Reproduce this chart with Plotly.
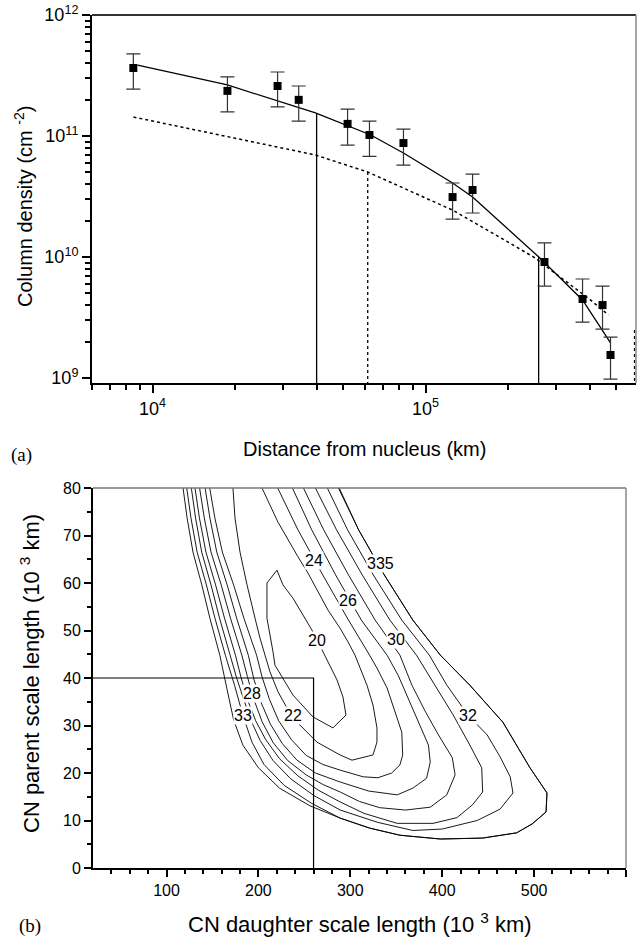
import plotly.graph_objects as go

# ---------------- panel (a): column density vs distance ----------------
dist_km = [8500, 18800, 28700, 34300, 51800, 62300, 83000, 125600, 148700, 272700, 376000, 445000, 476000]
col_dens = [3.65e11, 2.36e11, 2.59e11, 1.99e11, 1.26e11, 1.02e11, 8.75e10, 3.13e10, 3.58e10, 9.1e9, 4.5e9, 4.01e9, 1.55e9]
err_plus = [1.12e11, 0.72e11, 0.79e11, 0.60e11, 0.41e11, 0.31e11, 2.65e10, 0.96e10, 1.27e10, 4.0e9, 2.08e9, 1.74e9, 0.63e9]
err_minus = [1.21e11, 0.78e11, 0.85e11, 0.66e11, 0.42e11, 0.34e11, 3.0e10, 1.07e10, 1.27e10, 3.35e9, 1.6e9, 1.47e9, 0.57e9]

fit_x = [8810, 18800, 39500, 63000, 83000, 125600, 148700, 243000, 260000, 376000, 476000]
fit_y = [3.86e11, 2.64e11, 1.55e11, 1.02e11, 7.24e10, 4.09e10, 3.13e10, 1.14e10, 1.0e10, 4.42e9, 1.95e9]

alt_x = [8510, 39500, 61400, 125600, 249000, 294400, 401800, 467700]
alt_y = [1.435e11, 6.97e10, 5.04e10, 2.44e10, 1.0e10, 7.52e9, 4.42e9, 3.32e9]

solid_drop_x = [39900, 259600]
solid_drop_top = [1.55e11, 1.0e10]
dotted_drop_x = [61400, 583000]
dotted_drop_top = [5.04e10, 2.5e9]
drop_floor = 8e8

xa_major = [1e4, 1e5]
xa_labels = ["10<sup>4</sup>", "10<sup>5</sup>"]
xa_minor = [6000, 7000, 8000, 9000, 20000, 30000, 40000, 50000, 60000, 70000, 80000, 90000,
            200000, 300000, 400000, 500000]
ya_major = [1e9, 1e10, 1e11, 1e12]
ya_labels = ["10<sup>9</sup>", "10<sup>10</sup>", "10<sup>11</sup>", "10<sup>12</sup>"]
ya_minor = [m * 10 ** e for e in (8, 9, 10, 11) for m in range(2, 10)]

# ---------------- panel (b): chi-square contours ----------------
c20_x = [220.2, 226.7, 237.6, 245.2, 252.9, 259.4, 270.3, 277.9, 285.5, 292.0, 295.3, 281.1, 259.4, 237.6, 218.0, 215.9, 209.3, 209.3, 209.3, 220.2]
c20_y = [62.7, 59.6, 56.8, 54.3, 51.8, 49.7, 45.5, 42.7, 39.6, 36.0, 32.2, 29.5, 31.8, 36.4, 42.7, 45.5, 52.6, 57.5, 60.0, 62.7]

c22_x = [172.3, 174.5, 180.0, 187.6, 196.3, 201.7, 207.2, 212.6, 221.3, 231.1, 245.2, 263.7, 288.8, 301.8, 324.7, 329.0, 329.0, 324.7, 318.1, 310.5, 305.1, 297.5, 288.8, 275.7, 264.8, 253.9, 243.1, 232.2, 221.3, 212.6, 203.9]
c22_y = [80, 73.7, 66.5, 59.6, 52.6, 48.4, 44.8, 41.3, 37.1, 33.7, 30.1, 26.5, 23.8, 22.7, 23.8, 26.5, 29.5, 34.3, 38.5, 42.1, 44.8, 47.6, 50.5, 54.3, 58.1, 62.1, 65.5, 69.0, 72.8, 76.4, 80]

c24_x = [147, 152.6, 160.8, 173, 184.2, 198, 204, 212, 222, 236, 252, 270, 289, 314, 330, 345, 354, 357, 356, 349, 340, 329, 321, 298, 270, 243, 221]
c24_y = [80, 73.7, 66.5, 59.6, 52.6, 44.8, 40.2, 35.5, 31.0, 27.0, 23.7, 21.8, 20.6, 19.2, 19.0, 20.0, 21.7, 23.8, 28.6, 32.6, 37.9, 42.1, 44.8, 52.2, 61.7, 71.2, 80]

c26_x = [142, 147.2, 154.7, 166, 176.3, 189, 195, 203, 213, 226, 242, 262, 289, 320, 351, 368, 383, 387, 385, 374, 363, 352, 340, 312, 284, 258, 237]
c26_y = [80, 73.7, 66.5, 59.6, 52.6, 44.8, 39.8, 34.8, 30.3, 26.2, 22.7, 20.0, 18.1, 16.2, 15.4, 16.8, 18.9, 22.3, 25.9, 30.7, 35.8, 40.6, 44.8, 52.2, 61.7, 71.2, 80]

c28_x = [136, 141.1, 148.4, 159.5, 169.6, 182, 188, 195, 204, 216, 232, 252, 270, 289, 310, 332, 360, 387, 405, 414, 411, 396, 382, 367, 354, 327, 298, 271, 249]
c28_y = [80, 73.7, 66.5, 59.6, 52.6, 44.8, 40.3, 35.5, 30.8, 26.4, 22.6, 19.6, 17.6, 16.0, 14.0, 12.7, 12.2, 12.8, 15.4, 19.6, 23.2, 28.0, 32.8, 38.5, 44.8, 52.2, 61.7, 71.2, 80]

c30_x = [131, 135.8, 142.9, 153.4, 163.1, 175, 181, 188, 197, 208, 223, 243, 265, 289, 315, 351, 390, 416, 433, 444, 443, 430, 412, 390, 372, 343, 313, 285, 262]
c30_y = [80, 73.7, 66.5, 59.6, 52.6, 44.8, 40.2, 35.5, 31.0, 27.0, 23.0, 19.4, 16.4, 13.9, 11.5, 9.4, 9.4, 10.6, 13.3, 16.0, 21.1, 25.9, 32.2, 39.2, 44.8, 52.2, 61.7, 71.2, 80]

c32_x = [127, 131.6, 138.3, 148.4, 157.7, 169, 176, 184, 192, 202, 216, 235, 260, 289, 330, 368, 400, 438, 463, 477, 474, 463, 449, 428, 405, 386, 356, 325, 297, 275]
c32_y = [80, 73.7, 66.5, 59.6, 52.6, 44.8, 40.2, 35.5, 31.0, 26.8, 22.6, 18.8, 15.3, 12.2, 9.6, 7.9, 8.2, 10.0, 12.4, 15.8, 19.2, 23.4, 28.0, 32.2, 38.5, 44.8, 52.2, 61.7, 71.2, 80]

c33_x = [122, 126.6, 133.3, 143.4, 152.7, 164, 174, 183, 193, 206, 228, 258, 289, 321, 354, 398, 444, 481, 498, 513, 514, 495.5, 466, 430, 398, 368, 337, 309, 287]
c33_y = [80, 73.7, 66.5, 59.6, 52.6, 44.8, 38.5, 32.2, 26.5, 21.8, 17.4, 13.6, 10.5, 8.4, 6.9, 6.1, 6.3, 7.4, 9.3, 11.8, 15.8, 21.1, 30.7, 38.5, 44.8, 52.2, 61.7, 71.2, 80]

c35_x = [118, 122.4, 128.8, 138.4, 147.2, 158, 166, 173, 183, 200, 223, 256, 289, 321, 354, 398, 444, 481, 498, 513, 514, 495.5, 466, 430, 398, 368, 337, 309, 288]
c35_y = [80, 73.7, 66.5, 59.6, 52.6, 44.8, 37.5, 31.2, 25.9, 21.1, 16.8, 13.1, 10.5, 8.4, 6.9, 6.1, 6.3, 7.4, 9.3, 11.8, 15.8, 21.1, 30.7, 38.5, 44.8, 52.2, 61.7, 71.2, 80]

contour_lines = [(c20_x, c20_y), (c22_x, c22_y), (c24_x, c24_y), (c26_x, c26_y), (c28_x, c28_y),
                 (c30_x, c30_y), (c32_x, c32_y), (c33_x, c33_y), (c35_x, c35_y)]

# contour labels as printed (the 33 and 35 labels overprint as "335")
label_text = ["20", "22", "24", "26", "28", "30", "32", "33", "335"]
label_x = [264, 237.6, 260.5, 298, 193, 350, 428, 183, 333]
label_y = [48.0, 32.2, 64.8, 56.4, 36.8, 48.2, 32.2, 32.2, 64.2]

best_daughter = 260
best_parent = 40

xb_major = [100, 200, 300, 400, 500, 600]
xb_minor = [v for v in range(40, 600, 20) if v % 100 != 0]
yb_major = [0, 10, 20, 30, 40, 50, 60, 70, 80]
yb_minor = [5, 15, 25, 35, 45, 55, 65, 75]

FONT = "Liberation Sans, Arial, sans-serif"
SERIF = "Liberation Serif, Times New Roman, serif"

fig = go.Figure()

# fit curves
fig.add_trace(go.Scatter(x=fit_x, y=fit_y, mode="lines", line=dict(color="black", width=1.3),
                         xaxis="x", yaxis="y", showlegend=False))
fig.add_trace(go.Scatter(x=alt_x, y=alt_y, mode="lines", line=dict(color="black", width=1.5, dash="dot"),
                         xaxis="x", yaxis="y", showlegend=False))
# drop lines
sx, sy = [], []
for xv, top in zip(solid_drop_x, solid_drop_top):
    sx += [xv, xv, None]
    sy += [top, drop_floor, None]
fig.add_trace(go.Scatter(x=sx, y=sy, mode="lines", line=dict(color="black", width=1.3),
                         xaxis="x", yaxis="y", showlegend=False))
dx, dy = [], []
for xv, top in zip(dotted_drop_x, dotted_drop_top):
    dx += [xv, xv, None]
    dy += [top, drop_floor, None]
fig.add_trace(go.Scatter(x=dx, y=dy, mode="lines", line=dict(color="black", width=1.3, dash="dot"),
                         xaxis="x", yaxis="y", showlegend=False))
# data points
fig.add_trace(go.Scatter(x=dist_km, y=col_dens, mode="markers",
                         marker=dict(symbol="square", size=8, color="black"),
                         error_y=dict(type="data", symmetric=False, array=err_plus, arrayminus=err_minus,
                                      color="#333333", thickness=1.2, width=7),
                         xaxis="x", yaxis="y", showlegend=False))

# contours
for cx, cy in contour_lines:
    fig.add_trace(go.Scatter(x=cx, y=cy, mode="lines", line=dict(color="black", width=0.9),
                             xaxis="x2", yaxis="y2", showlegend=False))
# best-fit box
fig.add_trace(go.Scatter(x=[xb_minor[0] - 20, best_daughter, best_daughter],
                         y=[best_parent, best_parent, yb_major[0]], mode="lines",
                         line=dict(color="black", width=1.2), xaxis="x2", yaxis="y2", showlegend=False))

tickfont_a = dict(family=FONT, size=18, color="black")
tickfont_b = dict(family=FONT, size=16, color="black")

fig.update_layout(
    width=637, height=940,
    margin=dict(l=0, r=0, t=0, b=0),
    paper_bgcolor="white", plot_bgcolor="white",
    font=dict(family=FONT, color="black"),
    xaxis=dict(type="log", domain=[92 / 637, 636 / 637], range=[3.778, 5.771], anchor="y",
               showline=True, linecolor="black", linewidth=2, mirror=False,
               ticks="outside", ticklen=8, tickwidth=1.5, tickcolor="black",
               tickmode="array", tickvals=xa_major, ticktext=xa_labels, tickfont=tickfont_a,
               showgrid=False, zeroline=False, automargin=False,
               minor=dict(tickmode="array", tickvals=xa_minor, ticks="outside", ticklen=5,
                          tickwidth=1.5, tickcolor="black", showgrid=False)),
    yaxis=dict(type="log", domain=[1 - 383 / 940, 1 - 15 / 940], range=[8.959, 12], anchor="x",
               showline=True, linecolor="black", linewidth=2,
               ticks="outside", ticklen=8, tickwidth=1.5, tickcolor="black",
               tickmode="array", tickvals=ya_major, ticktext=ya_labels, tickfont=tickfont_a,
               showgrid=False, zeroline=False, automargin=False,
               minor=dict(tickmode="array", tickvals=ya_minor, ticks="outside", ticklen=5,
                          tickwidth=1.5, tickcolor="black", showgrid=False)),
    xaxis2=dict(domain=[93 / 637, 626 / 637], range=[20, 600], anchor="y2",
                showline=True, linecolor="black", linewidth=2,
                ticks="outside", ticklen=7, tickwidth=1.5, tickcolor="black",
                tickmode="array", tickvals=xb_major, tickfont=tickfont_b,
                showgrid=False, zeroline=False, automargin=False,
                minor=dict(tickmode="array", tickvals=xb_minor, ticks="outside", ticklen=4,
                           tickwidth=1.5, tickcolor="black", showgrid=False)),
    yaxis2=dict(domain=[1 - 868 / 940, 1 - 488 / 940], range=[0, 80], anchor="x2",
                showline=True, linecolor="black", linewidth=2,
                ticks="outside", ticklen=7, tickwidth=1.5, tickcolor="black",
                tickmode="array", tickvals=yb_major, tickfont=tickfont_b,
                showgrid=False, zeroline=False, automargin=False,
                minor=dict(tickmode="array", tickvals=yb_minor, ticks="outside", ticklen=4,
                           tickwidth=1.5, tickcolor="black", showgrid=False)),
)

# frame top/right
shapes = [
    dict(type="line", xref="x domain", yref="y domain", x0=0, x1=1, y0=1, y1=1, line=dict(color="#333333", width=2)),
    dict(type="line", xref="x domain", yref="y domain", x0=1, x1=1, y0=0, y1=1, line=dict(color="#888888", width=1.5)),
    dict(type="line", xref="x2 domain", yref="y2 domain", x0=0, x1=1, y0=1, y1=1, line=dict(color="#777777", width=1.5)),
    dict(type="line", xref="x2 domain", yref="y2 domain", x0=1, x1=1, y0=0, y1=1, line=dict(color="#888888", width=1.5)),
]
fig.update_layout(shapes=shapes)

ann = []
for t, lx, ly in zip(label_text, label_x, label_y):
    ann.append(dict(x=lx, y=ly, xref="x2", yref="y2", text=t, showarrow=False,
                    font=dict(family=FONT, size=16, color="black"), bgcolor="white", borderpad=0,
                    xanchor="center", yanchor="middle"))


def paper_text(text, px, py, size, angle=0, family=FONT):
    return dict(x=px / 637, y=1 - py / 940, xref="paper", yref="paper", text=text, showarrow=False,
                textangle=angle, font=dict(family=family, size=size, color="black"),
                xanchor="center", yanchor="middle")


ann += [
    paper_text("Column density (cm <sup>-2</sup>)", 23, 207, 20, -90),
    paper_text("Distance from nucleus (km)", 364, 449, 20),
    paper_text("(a)", 21, 455, 19, 0, SERIF),
    paper_text("CN parent scale length (10 <sup>3</sup> km)", 30, 674, 22, -90),
    paper_text("CN daughter scale length (10 <sup>3</sup> km)", 360, 923, 22),
    paper_text("(b)", 30, 926, 19, 0, SERIF),
]
fig.update_layout(annotations=ann)

fig.write_html("out.html")
